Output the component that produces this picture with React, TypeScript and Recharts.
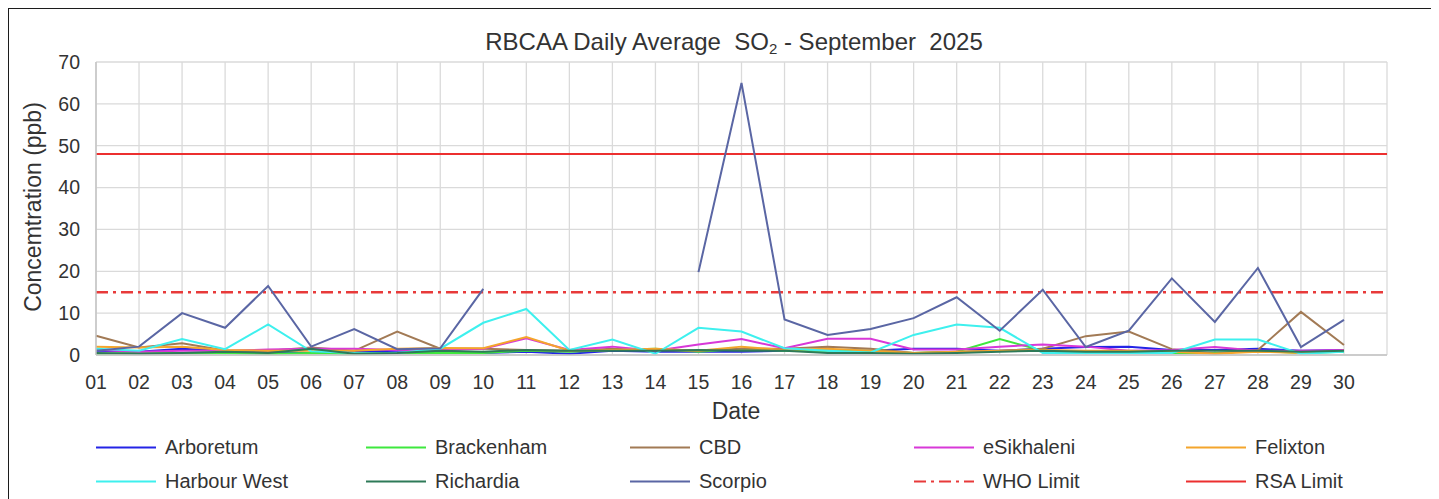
import React from "react";
import { LineChart, Line, XAxis, YAxis, CartesianGrid, ReferenceLine } from "recharts";

const tickLabels = ["01","02","03","04","05","06","07","08","09","10","11","12","13","14","15","16","17","18","19","20","21","22","23","24","25","26","27","28","29","30"];
const days = [1,2,3,4,5,6,7,8,9,10,11,12,13,14,15,16,17,18,19,20,21,22,23,24,25,26,27,28,29,30];

const arboretum = [1,0.8,1.5,1,0.8,0.5,0.8,1,1,0.5,0.8,0.3,1,0.8,0.8,0.8,1,1.2,1,1.5,1.5,1,1.5,1.9,2,1.2,1.2,1.5,1,1.2];
const brackenham = [0.3,0.5,0.5,0.5,0.3,0.5,0.3,0.5,0.5,0.5,1,0.8,1.2,1.5,0.8,1.5,1,1,1,0.5,0.8,3.8,1,0.8,0.5,0.5,0.5,1,0.5,0.8];
const cbd = [4.6,1.8,2.8,1.1,1,1.8,1,5.6,1.5,1.5,1.2,1,1.5,1.2,1,1.5,1.5,2,1.5,0.5,0.8,1,1.5,4.5,5.6,1.4,0.3,1.2,10.3,2.4];
const esikhaleni = [1.2,0.8,1,1,1.3,1.5,1.5,1.2,1.2,1.5,4,1.2,2,1,2.5,3.8,1.6,3.9,3.9,1.3,1.3,2,2.5,2,1,1.2,1.9,1,1,1.2];
const felixton = [2,1.8,2,1.2,1,1,1,1.5,1.7,1.6,4.3,1,1.2,1.5,1,2,1.2,1.5,1,0.5,0.8,1,1.2,1,1,0.8,0.3,0.8,0.5,1];
const harbourWest = [1.5,1,3.8,1.4,7.3,0.9,0.5,0.5,1.5,7.7,11,1.2,3.7,0.3,6.5,5.6,1.6,1,0.6,4.8,7.3,6.5,0.5,0.5,0.5,0.5,3.7,3.7,0.3,0.8];
const richardia = [0.5,0.3,0.5,0.8,0.5,1.5,0.3,0.5,1,0.8,1.2,1,1,1,1.2,1,1,0.5,0.5,0.3,0.5,0.8,1,0.8,0.8,1,1,1,0.8,1];
const scorpio: (number | null)[] = [1,2,10,6.5,16.5,2,6.2,1.4,1.6,15.8,null,null,null,null,19.8,65,8.5,4.8,6.2,8.8,13.8,5.8,15.6,1.9,5.8,18.3,7.9,20.8,1.9,8.4];

const whoLimit = 15;
const rsaLimit = 48;
const yTicks = [0,10,20,30,40,50,60,70];

const seriesNames = ["Arboretum","Brackenham","CBD","eSikhaleni","Felixton","Harbour West","Richardia","Scorpio"];
const seriesValues = [arboretum, brackenham, cbd, esikhaleni, felixton, harbourWest, richardia, scorpio];
const seriesColors = ["#2424e6","#3ee83e","#a27a55","#d838d8","#f4a52c","#3ef0ee","#2e7a58","#5a66a4"];
const seriesKeys = ["arboretum","brackenham","cbd","esikhaleni","felixton","harbourWest","richardia","scorpio"];

const data = days.map((d, i) => {
  const row: Record<string, number | null> = { day: d };
  seriesKeys.forEach((k, s) => { row[k] = seriesValues[s][i]; });
  return row;
});

const xTicks = [...days, 31];
const FONT = "'Liberation Sans', Arial, sans-serif";
const TEXT = "#333333";

const legendItems = [
  { name: seriesNames[0], color: seriesColors[0], dash: "" },
  { name: seriesNames[1], color: seriesColors[1], dash: "" },
  { name: seriesNames[2], color: seriesColors[2], dash: "" },
  { name: seriesNames[3], color: seriesColors[3], dash: "" },
  { name: seriesNames[4], color: seriesColors[4], dash: "" },
  { name: seriesNames[5], color: seriesColors[5], dash: "" },
  { name: seriesNames[6], color: seriesColors[6], dash: "" },
  { name: seriesNames[7], color: seriesColors[7], dash: "" },
  { name: "WHO Limit", color: "#e83a3a", dash: "12 5 3 5" },
  { name: "RSA Limit", color: "#ec2f2f", dash: "" },
];
const legendCols = [88, 358, 622, 906, 1178];

export default function App() {
  return (
    <div style={{ position: "relative", width: 1431, height: 491, fontFamily: FONT, color: TEXT, background: "#fff" }}>
      <div style={{ position: "absolute", left: -1, top: -1, width: 1433, height: 493, borderTop: "2px solid #1c1c1c", borderLeft: "2px solid #1c1c1c", boxSizing: "border-box", pointerEvents: "none" }} />
      <LineChart width={1431} height={491} data={data} margin={{ top: 54, right: 52, bottom: 104, left: 28 }}>
        <CartesianGrid stroke="#dadada" strokeWidth={1.3} />
        <XAxis
          dataKey="day"
          type="number"
          domain={[1, 31]}
          ticks={xTicks}
          interval={0}
          tickFormatter={(v: number) => (v <= 30 ? tickLabels[v - 1] : "")}
          tickLine={false}
          axisLine={{ stroke: "#c4c4c4", strokeWidth: 1.5 }}
          tickMargin={14}
          height={40}
          tick={{ fill: TEXT, fontSize: 19.5, fontFamily: FONT }}
        />
        <YAxis
          type="number"
          domain={[0, 70]}
          ticks={yTicks}
          interval={0}
          tickLine={false}
          axisLine={{ stroke: "#c4c4c4", strokeWidth: 1.5 }}
          tickMargin={10}
          width={60}
          tick={{ fill: TEXT, fontSize: 19.5, fontFamily: FONT }}
        />
        <ReferenceLine y={rsaLimit} stroke="#ec2f2f" strokeWidth={2} ifOverflow="visible" />
        <ReferenceLine y={whoLimit} stroke="#e83a3a" strokeWidth={2.5} strokeDasharray="12 5 3 5" ifOverflow="visible" />
        {seriesKeys.map((k, s) => (
          <Line
            key={k}
            type="linear"
            dataKey={k}
            stroke={seriesColors[s]}
            strokeWidth={2}
            dot={false}
            activeDot={false}
            isAnimationActive={false}
          />
        ))}
      </LineChart>
      <div style={{ position: "absolute", left: 726, top: 34, transform: "translate(-50%, -50%)", fontSize: 24, whiteSpace: "nowrap", lineHeight: "26px" }}>
        RBCAA Daily Average&nbsp; SO<sub style={{ fontSize: 15, verticalAlign: "-4px", lineHeight: 0 }}>2</sub> - September&nbsp; 2025
      </div>
      <div style={{ position: "absolute", left: 25, top: 199, transform: "translate(-50%, -50%) rotate(-90deg)", fontSize: 23, whiteSpace: "nowrap" }}>
        Concemtration (ppb)
      </div>
      <div style={{ position: "absolute", left: 728, top: 403, transform: "translate(-50%, -50%)", fontSize: 23, whiteSpace: "nowrap" }}>
        Date
      </div>
      {legendItems.map((it, i) => {
        const col = i % 5;
        const row = Math.floor(i / 5);
        const left = legendCols[col];
        const top = 439 + row * 34;
        return (
          <div key={it.name} style={{ position: "absolute", left, top, transform: "translateY(-50%)", display: "flex", alignItems: "center", whiteSpace: "nowrap", fontSize: 20 }}>
            <svg width={60} height={6} style={{ marginRight: 9 }}>
              <line x1={0} y1={3} x2={60} y2={3} stroke={it.color} strokeWidth={2} strokeDasharray={it.dash || undefined} />
            </svg>
            <span>{it.name}</span>
          </div>
        );
      })}
    </div>
  );
}
